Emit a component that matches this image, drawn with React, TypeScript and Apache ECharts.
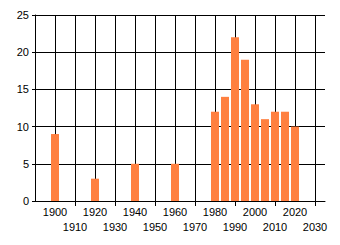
import React, { useEffect, useRef } from "react";
import * as echarts from "echarts";

const years = [1900, 1920, 1940, 1960, 1980, 1985, 1990, 1995, 2000, 2005, 2010, 2015, 2020];
const counts = [9, 3, 5, 5, 12, 14, 22, 19, 13, 11, 12, 12, 10];
const xLabelsRow1 = [1900, 1920, 1940, 1960, 1980, 2000, 2020];
const xLabelsRow2 = [1910, 1930, 1950, 1970, 1990, 2010, 2030];

export default function App() {
  const ref = useRef<HTMLDivElement>(null);
  useEffect(() => {
    const chart = echarts.init(ref.current!, null, { renderer: "svg" });
    const font = "Liberation Sans, Arial, sans-serif";
    const labelBase = {
      showMinLabel: true,
      showMaxLabel: true,
      hideOverlap: false,
      color: "#000",
      fontFamily: font,
      fontSize: 11,
      formatter: (v: number) => String(v),
    };
    chart.setOption({
      animation: false,
      grid: { left: 35, top: 15, right: 15, bottom: 44, containLabel: false },
      xAxis: [
        {
          type: "value",
          min: 1890,
          max: 2035,
          interval: 10,
          axisLine: { show: true, lineStyle: { color: "#000", width: 1 } },
          axisTick: { show: false },
          axisLabel: { ...labelBase, customValues: xLabelsRow1, margin: 5 },
          splitLine: { show: true, showMaxLine: false, lineStyle: { color: "#000", width: 1 } },
        },
        {
          type: "value",
          position: "bottom",
          offset: 0,
          min: 1890,
          max: 2035,
          interval: 10,
          axisLine: { show: false },
          axisTick: { show: true, length: 5, customValues: xLabelsRow2, lineStyle: { color: "#000" } },
          axisLabel: { ...labelBase, customValues: xLabelsRow2, margin: 20 },
          splitLine: { show: false },
        },
      ],
      yAxis: {
        type: "value",
        min: 0,
        max: 25,
        interval: 5,
        axisLine: { show: true, lineStyle: { color: "#000", width: 1 } },
        axisTick: { show: true, length: 3, lineStyle: { color: "#000" } },
        axisLabel: { color: "#000", fontFamily: font, fontSize: 11, margin: 6 },
        splitLine: { show: true, lineStyle: { color: "#000", width: 1 } },
      },
      series: [
        {
          type: "bar",
          xAxisIndex: 0,
          data: years.map((y, i) => [y, counts[i]]),
          barWidth: 8,
          itemStyle: { color: "#FF8040" },
        },
      ],
    });
    return () => chart.dispose();
  }, []);
  return (
    <div
      ref={ref}
      style={{ position: "fixed", left: 0, top: 0, width: 340, height: 245, background: "#fff" }}
    />
  );
}
